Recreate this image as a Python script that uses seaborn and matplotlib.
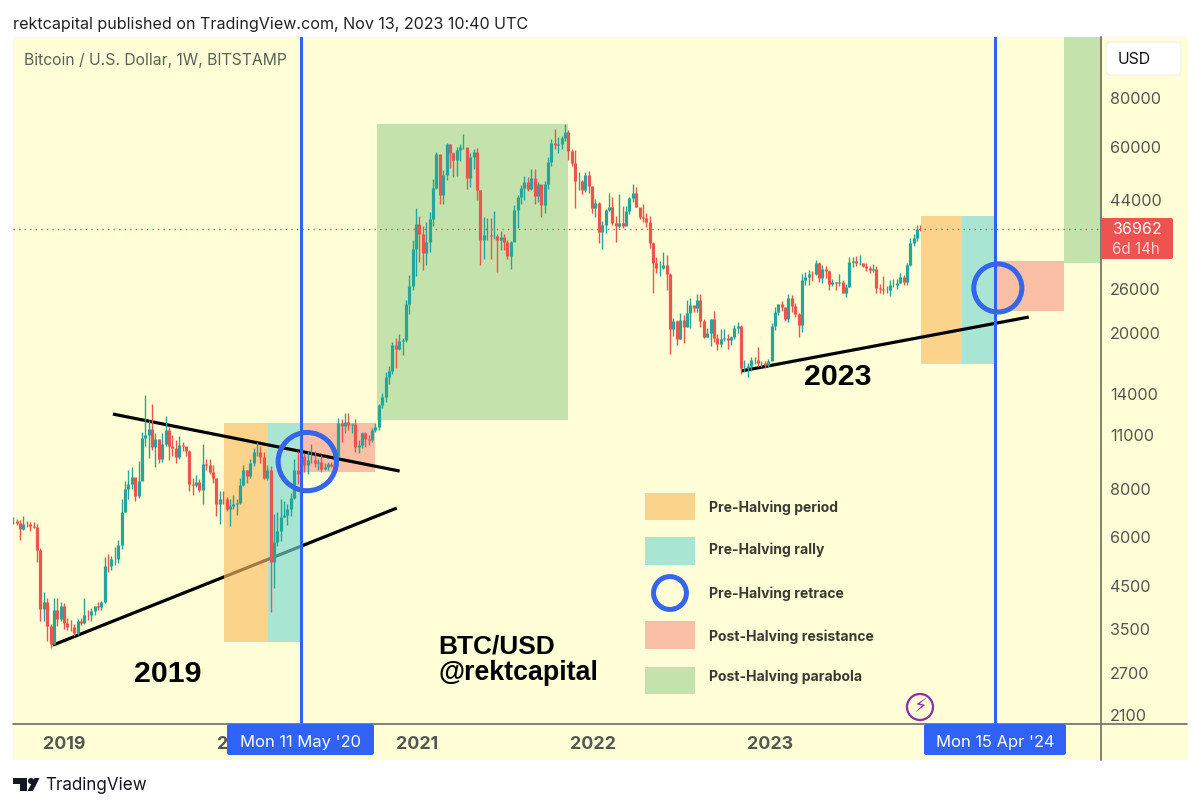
import matplotlib
matplotlib.use("Agg")
import matplotlib.pyplot as plt
import matplotlib.dates as mdates
from matplotlib.patches import Rectangle, FancyBboxPatch, Circle, Polygon
import numpy as np
import pandas as pd
import seaborn as sns

# ---------- data ----------
first_week = "2018-09-24"
first_open = 6600
closes = [
 6620,6540,6300,6500,6480,6410,6360,5560,3940,4100,
 3550,3200,3900,3700,4000,3620,3540,3530,3420,3650,
 3620,3800,3790,3880,3990,3970,4090,5060,5050,5270,
 5270,5750,6970,8000,8200,8550,7650,8350,10800,11000,
 11350,10200,10700,9500,10400,11300,10300,10150,9620,10350,
 10300,10000,8200,8150,8300,7950,9250,9200,8800,8500,
 7300,7530,7500,7100,7200,7320,7350,8180,8900,8600,
 9300,9900,9900,9660,8530,8900,5200,5830,6220,6780,
 6860,7100,7550,8900,8720,9680,9180,9450,9470,9330,
 9360,9000,9070,9230,9160,9700,11800,11600,11850,11650,
 11700,10250,10330,11100,10750,10670,11300,11500,13100,13770,
 15500,16050,18700,18200,19150,19200,23800,26400,33000,38200,
 36000,32100,34300,39200,47200,57500,45200,51000,61000,58000,
 55800,59000,60000,60000,50000,56600,58200,46500,34700,35700,
 35800,35500,35600,34700,35300,34300,31500,34200,41500,44600,
 47100,48800,47000,49900,45000,48300,42700,48200,54900,61500,
 60900,61300,63300,65500,58600,54700,49300,49300,46700,50800,
 47700,41800,43100,36300,37900,41400,42200,38400,37700,38400,
 37800,41300,44500,45800,42200,39700,39500,38500,34000,30300,
 29400,29450,29900,28400,20500,21500,19300,21600,20800,22600,
 23600,23200,24300,21500,19600,20000,21800,19400,18800,19300,
 19400,19250,19600,20600,20900,16300,16300,16450,17100,17100,
 16780,16830,16600,16950,20870,22700,23750,23300,21800,24650,
 23550,22400,21000,27400,27960,28450,28320,30300,27800,29200,
 28900,26800,27100,26850,27100,25400,26300,30500,30600,30300,
 30300,29800,29350,29050,29300,26100,26000,25850,25900,26550,
 26550,27000,27900,27150,29900,34100,35050,37050,36962,
]
highs = [
 6760,6680,6650,6800,6620,6560,6560,6500,5640,4350,
 4200,3600,4200,4200,4100,4080,3720,3680,3600,3700,
 3730,4200,3900,3950,4000,4100,4130,5350,5450,5360,
 5650,5900,7500,8350,8950,9100,8400,9400,11200,13900,
 12000,13200,11100,10700,11100,12300,11500,10950,10650,10900,
 10500,10250,10050,8500,8650,8450,10400,9500,9500,9180,
 8500,7900,7900,7600,7500,7700,7500,8500,9200,8900,
 9550,10170,10500,10300,9950,9200,9150,6900,6950,7500,
 7450,7300,7800,9500,10000,9950,9850,10000,10400,10000,
 9550,9780,9300,9350,9350,10180,12100,12070,12500,12500,
 11800,12080,10650,11200,11200,10950,11450,11750,13200,14100,
 15950,16500,18950,19450,19900,19450,24300,28300,34800,41900,
 40000,37800,38600,40900,49700,58400,52000,52600,61700,61000,
 58500,60200,61200,64900,57500,57900,59500,59600,46700,39800,
 39500,39400,41300,36000,36600,35900,34700,34500,42600,45300,
 47900,50500,50200,52900,52900,48800,47300,49200,56500,62900,
 66900,63700,64200,69000,66300,59300,59100,51900,49500,51900,
 52000,47600,44300,43500,38900,41700,45800,44700,40000,45400,
 42500,42400,44800,48200,47400,41600,42900,40800,39900,34200,
 31400,30700,32400,31700,28500,21900,21600,22500,22300,24300,
 24600,23500,25200,25200,21800,20600,21800,22800,19900,20500,
 20500,19900,19700,21000,21400,21000,17100,16800,17400,17400,
 18400,16950,16950,17200,21300,23400,23800,24250,23400,25200,
 25100,23900,22600,28400,28800,29100,28900,30900,30500,30000,
 29800,29000,27500,27100,28450,27400,26800,31400,31400,31500,
 31800,30300,30300,29800,30200,29700,26800,28100,26500,27400,
 27500,27500,28600,28300,30300,35200,35900,38000,37900,
]
lows = [
 6480,6440,5900,6280,6380,6210,6330,5200,3650,3670,
 3250,3130,3210,3550,3650,3500,3480,3450,3350,3380,
 3580,3600,3680,3650,3800,3900,3900,4080,4900,4950,
 5100,5150,5600,6950,7500,8000,7450,7550,8900,10300,
 9600,10050,9100,9300,9350,10300,9450,9700,9330,9500,
 9960,9680,7900,7700,8080,7830,7320,8900,8700,8280,
 6800,6500,7300,7000,6430,7100,6850,7300,8100,8270,
 8500,9150,9700,9300,8460,8400,3860,4450,5700,5860,
 6750,6450,6800,7500,8200,8100,8800,8700,9300,9100,
 8920,8820,8900,8950,9100,9050,9600,10550,11100,11300,
 11100,9950,9850,10150,10200,10350,10550,11200,11300,12900,
 13300,14850,15750,16300,18100,17600,19000,22400,25800,28000,
 30400,29000,30000,32300,37800,47000,43000,43000,49500,53200,
 50400,50600,55400,59500,47000,47500,52900,43900,30000,31100,
 34800,31000,34900,28800,32700,32700,31000,29300,34800,37300,
 42800,43900,46400,46500,42800,43400,39700,40700,47000,53800,
 59500,58000,59500,62300,55600,53700,42000,46700,45500,46000,
 45700,40600,39700,34000,32900,36200,41100,38000,34300,37200,
 37200,37600,40500,43400,42100,39200,38600,37500,33100,25400,
 28600,28000,29300,25800,17700,19700,18650,19300,18900,20800,
 20700,22700,22700,20800,19500,19600,18600,19000,18100,18500,
 19100,18200,18700,19300,20000,15700,15900,15500,16000,16700,
 16500,16400,16300,16350,17300,20400,22300,22800,21500,21400,
 22700,22000,19600,20100,26600,26600,27200,28200,27100,26950,
 27700,25800,26500,25800,26500,25400,24800,26250,29500,29700,
 29900,29500,28900,28600,28700,25400,25350,25300,25350,24950,
 26300,25950,26950,26550,26550,29700,33400,34500,36600,
]

last_price = 36962
price_ticks = [80000, 60000, 44000, 26000, 20000, 14000, 11000, 8000, 6000, 4500, 3500, 2700, 2100]
year_labels = ["2019", "2020", "2021", "2022", "2023"]
year_dates = ["2019-01-07", "2020-01-06", "2021-01-06", "2022-01-05", "2023-01-05"]
halving_dates = ["2020-05-11", "2024-04-15"]
halving_tags = ["Mon 11 May '20", "Mon 15 Apr '24"]

zone_kinds = ["pre", "rally", "resist", "para", "pre", "rally", "resist", "para"]
zone_start = ["2019-12-03", "2020-03-04", "2020-05-11", "2020-10-16", "2023-11-15", "2024-02-07", "2024-04-15", "2024-09-05"]
zone_end   = ["2020-03-04", "2020-05-11", "2020-10-10", "2021-11-15", "2024-02-07", "2024-04-15", "2024-09-05", "2024-11-23"]
zone_low   = [3233, 3233, 8818, 11990, 16680, 16680, 22810, 30300]
zone_high  = [11772, 11772, 11772, 68800, 39980, 39980, 30660, 115000]

trend_start_date = ["2019-04-18", "2018-12-15", "2022-11-07"]
trend_end_date   = ["2020-12-01", "2020-11-25", "2024-06-24"]
trend_start_price = [12420, 3175, 16010]
trend_end_price   = [8870, 7130, 22020]

retrace_dates = ["2020-05-24", "2024-04-21"]
retrace_prices = [9380, 26140]

legend_labels = ["Pre-Halving period", "Pre-Halving rally", "Pre-Halving retrace", "Post-Halving resistance", "Post-Halving parabola"]

# ---------- styles ----------
BG = "#FFFED6"
UP, DOWN = "#26A69A", "#EF5350"
BLUE = "#2F62F5"
RING = "#3566EA"
RULE = "#77776C"
GREY = "#55564F"
ZONE = {"pre": "#FBBC64", "rally": "#7BD8D2", "resist": "#F99D8D", "para": "#A5D596"}
ZA = 0.65

sns.set_theme(style="white", rc={"font.family": "Inter", "axes.facecolor": "none"})

W, H = 1200, 808
fig = plt.figure(figsize=(W / 100, H / 100), dpi=100, facecolor="white")
fig.patches.append(Rectangle((13 / W, 1 - 760 / H), 1174 / W, 723 / H, transform=fig.transFigure,
                             facecolor=BG, edgecolor="none", zorder=-5))
ax = fig.add_axes([13 / W, 1 - 724 / H, 1088 / W, 687 / H])
ax.patch.set_alpha(0)

# ---------- candles ----------
weeks = pd.date_range(first_week, periods=len(closes), freq="7D")
opens = [first_open] + closes[:-1]
rows_w, rows_b = [], []
for k, d in enumerate(mdates.date2num(weeks)):
    dirn = "up" if closes[k] >= opens[k] else "down"
    rows_w += [(d, lows[k], k, dirn), (d, highs[k], k, dirn)]
    rows_b += [(d, opens[k], k, dirn), (d, closes[k], k, dirn)]
cols = ["date", "price", "candle", "dir"]
pal = {"up": UP, "down": DOWN}
for rows, lw in ((rows_w, 1.0), (rows_b, 2.3)):
    sns.lineplot(data=pd.DataFrame(rows, columns=cols), x="date", y="price", units="candle",
                 hue="dir", hue_order=["up", "down"], palette=pal, estimator=None, sort=False,
                 linewidth=lw, legend=False, ax=ax, zorder=3, solid_capstyle="butt")

ax.set_yscale("log")
PX_WEEK = 3.385
d0 = mdates.date2num(pd.Timestamp(halving_dates[0]))
ax.set_xlim(d0 - (301 - 13) / PX_WEEK * 7, d0 + (1101 - 301) / PX_WEEK * 7)
ax.set_ylim(80000 * np.exp(-(724 - 98.5) / 169.4), 80000 * np.exp((98.5 - 37) / 169.4))

# zones
for kind, a, b, lo, hi in zip(zone_kinds, zone_start, zone_end, zone_low, zone_high):
    xs = mdates.date2num([pd.Timestamp(a), pd.Timestamp(b)])
    ax.fill_between(xs, lo, hi, color=ZONE[kind], alpha=ZA, linewidth=0, zorder=2)

# trend lines
for a, b, p, q, z in zip(trend_start_date, trend_end_date, trend_start_price, trend_end_price, (2.5, 1, 2.5)):
    ax.plot(mdates.date2num([pd.Timestamp(a), pd.Timestamp(b)]), [p, q], color="black", lw=2.3,
            solid_capstyle="butt", zorder=z)

ax.axhline(last_price, color=DOWN, lw=1, ls=(0, (1, 3)), zorder=4)
for d in halving_dates:
    ax.axvline(mdates.date2num(pd.Timestamp(d)), color=BLUE, lw=2.2, zorder=5)
ax.scatter(mdates.date2num(pd.to_datetime(retrace_dates)), retrace_prices, s=[1760, 1200],
           facecolors="none", edgecolors=RING, linewidths=3.6, zorder=6)

# axes
for s in ax.spines.values():
    s.set_visible(False)
ax.yaxis.tick_right()
ax.set_yticks(price_ticks)
ax.set_yticklabels([str(t) for t in price_ticks], fontsize=11.6, color=GREY, ha="left")
ax.yaxis.set_minor_locator(matplotlib.ticker.NullLocator())
ax.set_xticks(mdates.date2num(pd.to_datetime(year_dates)))
ax.set_xticklabels(year_labels, fontsize=12.8, color=GREY, fontweight="bold")
ax.tick_params(axis="y", length=0, pad=6.5)
ax.tick_params(axis="x", length=0, pad=8.5)
ax.set_xlabel("")
ax.set_ylabel("")

# ---------- overlay in pixels ----------
ov = fig.add_axes([0, 0, 1, 1], zorder=10)
ov.set_xlim(0, W)
ov.set_ylim(H, 0)
ov.axis("off")

ov.plot([13, 1187], [724, 724], color=RULE, lw=1.3, zorder=1)
ov.plot([1101, 1101], [37, 760], color=RULE, lw=1.3, zorder=1)

def txt(x, y, s, size, color="black", weight="normal", ha="left", family="Inter", **k):
    return ov.text(x, y, s, fontsize=size * 0.72, color=color, fontweight=weight, ha=ha, va="center",
                   family=family, **k)

txt(13, 24, "rektcapital published on TradingView.com, Nov 13, 2023 10:40 UTC", 16.05, "#222222")
txt(24, 60, "Bitcoin / U.S. Dollar, 1W, BITSTAMP", 15.7, "#5A6358")

# USD
ov.add_patch(FancyBboxPatch((1106, 42), 75, 33, boxstyle="round,pad=0,rounding_size=5",
                            fc="white", ec="#F3F3EA", lw=1, zorder=3))
txt(1118, 59, "USD", 15.7, "#111111", zorder=4)

# red price tag
ov.add_patch(FancyBboxPatch((1101, 218), 72, 41, boxstyle="round,pad=0,rounding_size=2",
                            fc=DOWN, ec="none", zorder=3))
txt(1112, 229, "36962", 16, "white", zorder=4)
txt(1112, 250, "6d 14h", 15.2, "#FBD5D3", zorder=4)

# blue date tags
for (x0, x1), s in zip([(227, 374), (924, 1066)], halving_tags):
    ov.add_patch(FancyBboxPatch((x0, 724), x1 - x0, 31, boxstyle="round,pad=0,rounding_size=2.5",
                                fc=BLUE, ec="none", zorder=3))
    txt((x0 + x1) / 2, 742, s, 16.6, "white", ha="center", zorder=4)

# big annotations
txt(168, 674, "2019", 30.4, weight="bold", ha="center", family="Liberation Sans")
txt(838, 377, "2023", 30.4, weight="bold", ha="center", family="Liberation Sans")
txt(438, 646, "BTC/USD", 26.2, weight="bold", family="Liberation Sans")
txt(438, 673, "@rektcapital", 26.8, weight="bold", family="Liberation Sans")

# legend
swatches = [("pre", 493, 520), ("rally", 537, 565), ("resist", 621, 649), ("para", 667, 694)]
for kind, y0, y1 in swatches:
    ov.add_patch(Rectangle((645, y0), 50, y1 - y0, fc=ZONE[kind], alpha=ZA, ec="none"))
ov.scatter([670], [593], s=560, facecolors="none", edgecolors=RING, linewidths=3.6)
for y, s in zip([507.5, 549.5, 593.5, 636.5, 676.5], legend_labels):
    txt(709, y, s, 14, "#3A3A33", weight="bold")

# lightning icon
ov.add_patch(Circle((920, 707), 13, fc="none", ec="#8E2DA8", lw=1.6))
ov.text(920, 707, "\u26A1", fontsize=14, color="#8E2DA8", ha="center", va="center", family="DejaVu Sans")

# TradingView mark
ov.add_patch(Polygon([(13, 778), (27, 778), (27, 791), (20, 791), (20, 784), (13, 784)], fc="#131722", ec="none"))
ov.add_patch(Circle((31, 781), 3, fc="#131722", ec="none"))
ov.add_patch(Polygon([(34.5, 778), (39.5, 778), (33, 791), (27.5, 791)], fc="#131722", ec="none"))
txt(45, 785, "TradingView", 17, "#131722")

fig.savefig("out.png", dpi=100, facecolor="white")
